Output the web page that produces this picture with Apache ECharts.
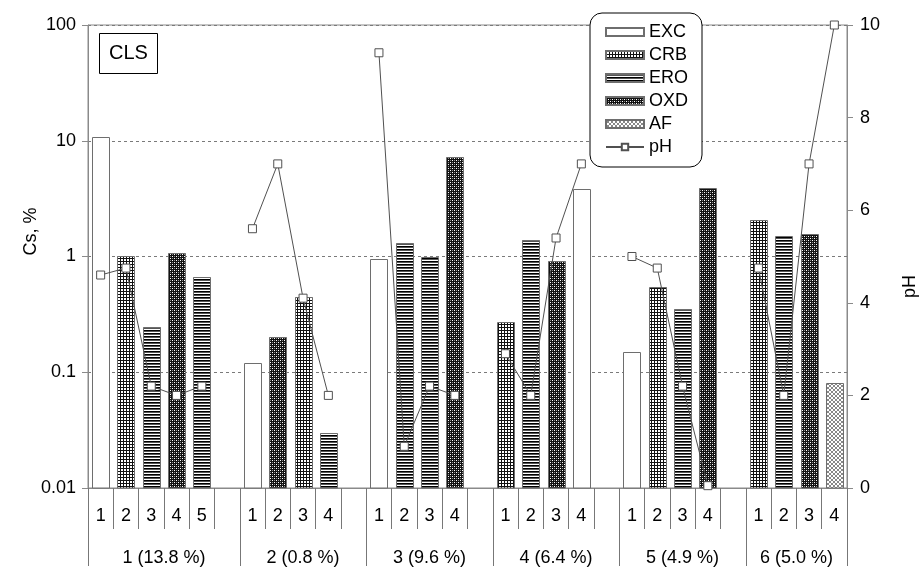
<!DOCTYPE html>
<html>
<head>
<meta charset="utf-8">
<script src="https://cdn.jsdelivr.net/npm/echarts@6/dist/echarts.min.js"></script>
<style>
  html, body { margin: 0; padding: 0; background: #fff; }
  #chart { width: 921px; height: 567px; }
</style>
</head>
<body>
<div id="chart"></div>
<script>
// Slot labels along the bottom (one per bar position, blank spacer after each group)
const SLOT_LABELS = ['1','2','3','4','5','',
                     '1','2','3','4','',
                     '1','2','3','4','',
                     '1','2','3','4','',
                     '1','2','3','4','',
                     '1','2','3','4'];
// Sample groups and the slot index where each group starts (last entry = end)
const GROUP_LABELS = ['1 (13.8 %)', '2 (0.8 %)', '3 (9.6 %)', '4 (6.4 %)', '5 (4.9 %)', '6 (5.0 %)'];
const GROUP_EDGES = [0, 6, 11, 16, 21, 26, 30];

// Cs fractions, % (null = no bar in that slot)
const EXC = [10.8, null, null, null, null, null,
             0.12, null, null, null, null,
             0.96, null, null, null, null,
             null, null, null, 3.8, null,
             0.15, null, null, null, null,
             null, null, null, null];
const CRB = [null, 1.02, null, null, null, null,
             null, null, 0.45, null, null,
             null, null, null, null, null,
             0.27, null, null, null, null,
             null, 0.55, null, null, null,
             2.05, null, null, null];
const ERO = [null, null, 0.245, null, 0.66, null,
             null, null, null, 0.03, null,
             null, 1.3, 1.0, null, null,
             null, 1.4, null, null, null,
             null, null, 0.35, null, null,
             null, 1.5, null, null];
const OXD = [null, null, null, 1.07, null, null,
             null, 0.2, null, null, null,
             null, null, null, 7.3, null,
             null, null, 0.92, null, null,
             null, null, null, 3.9, null,
             null, null, 1.55, null];
const AF  = [null, null, null, null, null, null,
             null, null, null, null, null,
             null, null, null, null, null,
             null, null, null, null, null,
             null, null, null, null, null,
             null, null, null, 0.08];
// pH of each extract
const PH  = [4.6, 4.75, 2.2, 2.0, 2.2, null,
             5.6, 7.0, 4.1, 2.0, null,
             9.4, 0.9, 2.2, 2.0, null,
             2.9, 2.0, 5.4, 7.0, null,
             5.0, 4.75, 2.2, 0.05, null,
             4.75, 2.0, 7.0, 10.0];

// Axis tick labels
const CS_TICKS = ['0.01', '0.1', '1', '10', '100'];
const CS_MIN = 0.01, CS_MAX = 100;
const PH_MIN = 0, PH_MAX = 10, PH_STEP = 2;

const FONT = 'Liberation Sans, Arial, sans-serif';
const BAR_W = 17;
const EDGE = '#6e6e6e';

// Hatch tiles for the bar fills
function tile(w, h, draw) {
  const c = document.createElement('canvas');
  c.width = w; c.height = h;
  const g = c.getContext('2d');
  g.fillStyle = '#fff';
  g.fillRect(0, 0, w, h);
  draw(g);
  return { image: c, repeat: 'repeat' };
}
const px = (g, col, pts) => { g.fillStyle = col; pts.forEach(p => g.fillRect(p[0], p[1], 1, 1)); };

const FILL = {
  EXC: '#ffffff',
  CRB: tile(3, 3, g => { g.fillStyle = '#111'; g.fillRect(0, 0, 3, 1); g.fillRect(0, 0, 1, 3); }),
  ERO: tile(1, 3, g => { px(g, '#000', [[0, 0]]); px(g, '#555', [[0, 1]]); }),
  OXD: tile(4, 4, g => { g.fillStyle = '#111'; g.fillRect(0, 0, 4, 4);
                         px(g, '#fff', [[0, 0], [2, 2]]);
                         px(g, '#8a8a8a', [[2, 0], [0, 2]]); }),
  AF:  tile(4, 4, g => { px(g, '#888', [[0,0],[1,1],[2,2],[3,3],[3,0],[2,1],[1,2],[0,3]]); })
};

function barSeries(name, values) {
  const data = values.map((v, i) => (v == null ? null : [i, v])).filter(Boolean);
  return {
    name: name,
    type: 'custom',
    xAxisIndex: 0,
    yAxisIndex: 0,
    z: 2,
    itemStyle: { color: FILL[name], borderColor: EDGE, borderWidth: 1 },
    encode: { x: 0, y: 1 },
    data: data,
    renderItem: function (params, api) {
      const top = api.coord([api.value(0), api.value(1)]);
      const base = api.coord([api.value(0), CS_MIN]);
      const x = Math.round(top[0] - BAR_W / 2) + 0.5;
      const y = Math.round(top[1]) + 0.5;
      return {
        type: 'rect',
        shape: { x: x, y: y, width: BAR_W, height: base[1] - y },
        style: api.style()
      };
    }
  };
}

const groupCenters = GROUP_EDGES.slice(0, -1).map((e, i) => (e + GROUP_EDGES[i + 1]) / 2);

const chart = echarts.init(document.getElementById('chart'), null, { renderer: 'canvas' });
chart.setOption({
  animation: false,
  textStyle: { fontFamily: FONT },
  grid: {
    left: 88, right: 74, top: 25, bottom: 79,
    outerBoundsMode: 'none', containLabel: false,
    show: true, borderColor: '#8a8a8a', borderWidth: 1, backgroundColor: 'transparent'
  },
  title: {
    text: 'CLS', left: 99, top: 33, padding: [10, 10, 11, 10],
    borderColor: '#000', borderWidth: 1, backgroundColor: '#fff',
    textStyle: { fontSize: 20, fontWeight: 'normal', color: '#000', fontFamily: FONT }
  },
  legend: {
    left: 590, top: 13, orient: 'vertical',
    padding: [10, 14, 11, 15], itemGap: 5,
    itemWidth: 38, itemHeight: 8,
    backgroundColor: '#fff', borderColor: '#000', borderWidth: 1, borderRadius: 12,
    textStyle: { fontSize: 18, color: '#000', fontFamily: FONT },
    data: [
      { name: 'EXC', icon: 'rect' },
      { name: 'CRB', icon: 'rect' },
      { name: 'ERO', icon: 'rect' },
      { name: 'OXD', icon: 'rect' },
      { name: 'AF', icon: 'rect' },
      { name: 'pH' }
    ]
  },
  xAxis: [
    {
      type: 'category',
      data: SLOT_LABELS,
      boundaryGap: true,
      axisLine: { lineStyle: { color: '#8a8a8a' } },
      axisTick: { show: true, interval: 0, length: 41, lineStyle: { color: '#777' } },
      axisLabel: { interval: 0, margin: 19, fontSize: 18, color: '#000', fontFamily: FONT },
      splitLine: { show: false }
    },
    {
      type: 'value',
      position: 'bottom',
      min: GROUP_EDGES[0],
      max: GROUP_EDGES[GROUP_EDGES.length - 1],
      axisLine: { show: false },
      axisTick: { show: true, customValues: GROUP_EDGES, length: 78, lineStyle: { color: '#777' } },
      axisLabel: {
        customValues: groupCenters, margin: 61, fontSize: 18, color: '#000', fontFamily: FONT,
        formatter: v => GROUP_LABELS[groupCenters.indexOf(v)] || ''
      },
      splitLine: { show: false }
    }
  ],
  yAxis: [
    {
      type: 'log', logBase: 10, min: CS_MIN, max: CS_MAX,
      name: 'Cs, %', nameLocation: 'middle', nameGap: 48, nameRotate: 90, nameMoveOverlap: false,
      nameTextStyle: { fontSize: 18, color: '#000', fontFamily: FONT, padding: [0, 0, 0, 50] },
      axisLine: { show: true, lineStyle: { color: '#8a8a8a' } },
      axisTick: { show: true, inside: false, length: 6, lineStyle: { color: '#8a8a8a' } },
      axisLabel: {
        margin: 12, fontSize: 18, color: '#000', fontFamily: FONT,
        formatter: v => CS_TICKS[Math.round(Math.log10(v)) + 2]
      },
      minorTick: { show: false },
      splitLine: { show: true, lineStyle: { color: '#7a7a7a', type: [3, 3], width: 1 } }
    },
    {
      type: 'value', min: PH_MIN, max: PH_MAX, interval: PH_STEP,
      position: 'right',
      name: 'pH', nameLocation: 'middle', nameGap: 54, nameRotate: 90, nameMoveOverlap: false,
      nameTextStyle: { fontSize: 18, color: '#000', fontFamily: FONT, padding: [0, 60, 0, 0] },
      axisLine: { show: true, lineStyle: { color: '#8a8a8a' } },
      axisTick: { show: true, inside: false, length: 6, lineStyle: { color: '#8a8a8a' } },
      axisLabel: { margin: 13, fontSize: 18, color: '#000', fontFamily: FONT },
      splitLine: { show: false }
    }
  ],
  series: [
    barSeries('EXC', EXC),
    barSeries('CRB', CRB),
    barSeries('ERO', ERO),
    barSeries('OXD', OXD),
    barSeries('AF', AF),
    {
      name: 'pH',
      type: 'line',
      xAxisIndex: 0,
      yAxisIndex: 1,
      z: 5,
      data: PH,
      connectNulls: false,
      symbol: 'rect',
      symbolSize: 8,
      lineStyle: { color: '#505050', width: 1 },
      itemStyle: { color: '#fff', borderColor: '#505050', borderWidth: 1 }
    }
  ]
});
</script>
</body>
</html>
